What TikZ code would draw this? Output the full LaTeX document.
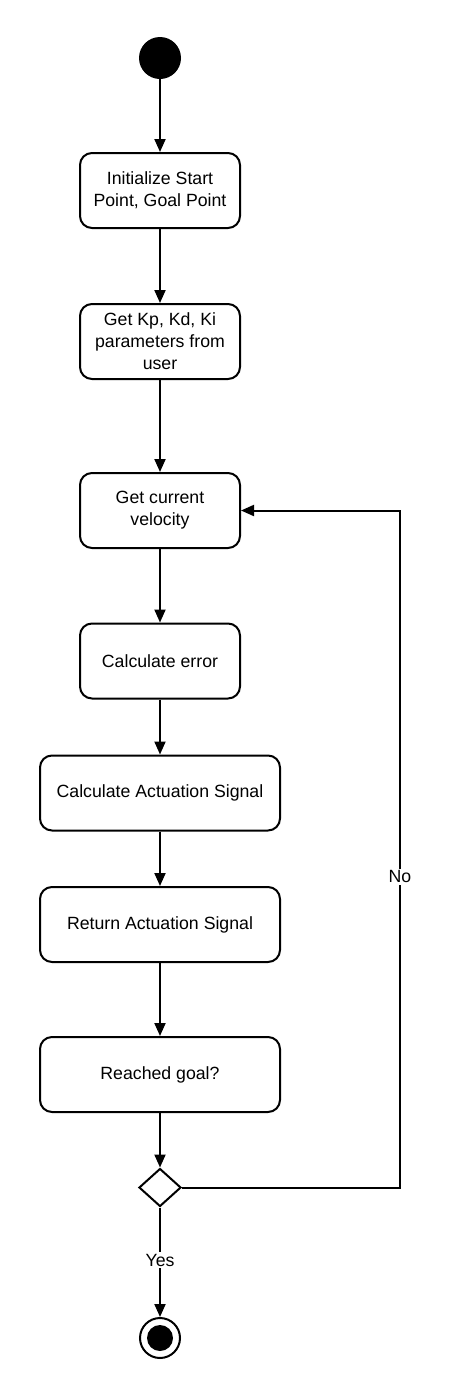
\documentclass[tikz,border=0pt]{standalone}
\usepackage{fontspec}
\setmainfont{Liberation Sans}
\usetikzlibrary{arrows.meta,shapes.geometric}
\begin{document}
\begin{tikzpicture}[x=1pt,y=-1pt,
  every node/.style={font=\fontsize{17.7pt}{22pt}\selectfont},
  act/.style={draw, rectangle, rounded corners=12pt, line width=2pt, minimum height=75pt, align=center, inner sep=0pt},
  narrow/.style={act, minimum width=160pt},
  wide/.style={act, minimum width=240pt},
  flow/.style={line width=2pt, -{Triangle[length=13pt,width=11pt]}},
  lbl/.style={fill=white, inner sep=2pt}]
\useasboundingbox (0,0) rectangle (451,1398);
\node[circle, fill=black, minimum size=42pt, inner sep=0pt] (start) at (160,58) {};
\node[narrow] (b1) at (160,190.5) {Initialize Start\\Point, Goal Point};
\node[narrow] (b2) at (160,341.5) {Get Kp, Kd, Ki\\parameters from\\user};
\node[narrow] (b3) at (160,510.5) {Get current\\velocity};
\node[narrow] (b4) at (160,661) {Calculate error};
\node[wide] (b5) at (160,793) {Calculate Actuation Signal};
\node[wide] (b6) at (160,924.5) {Return Actuation Signal};
\node[wide] (b7) at (160,1074.5) {Reached goal?};
\node[diamond, draw, line width=2pt, minimum width=42pt, minimum height=38pt, inner sep=0pt] (dia) at (160,1187.5) {};
\node[circle, draw, line width=2pt, minimum size=40pt, inner sep=0pt] (end) at (160,1338) {};
\node[circle, fill=black, minimum size=26pt, inner sep=0pt] (endin) at (160,1338) {};
\coordinate (c1) at (400,1187.5);
\coordinate (c2) at (400,510.5);
\draw[flow] (start) -- (b1);
\draw[flow] (b1) -- (b2);
\draw[flow] (b2) -- (b3);
\draw[flow] (b3) -- (b4);
\draw[flow] (b4) -- (b5);
\draw[flow] (b5) -- (b6);
\draw[flow] (b6) -- (b7);
\draw[flow] (b7) -- (dia);
\draw[flow] (dia) -- node[lbl, pos=0.48] {Yes} (end);
\draw[flow] (dia.east) -- (c1) -- node[lbl, pos=0.459] {No} (c2) -- (b3.east);
\end{tikzpicture}
\end{document}
